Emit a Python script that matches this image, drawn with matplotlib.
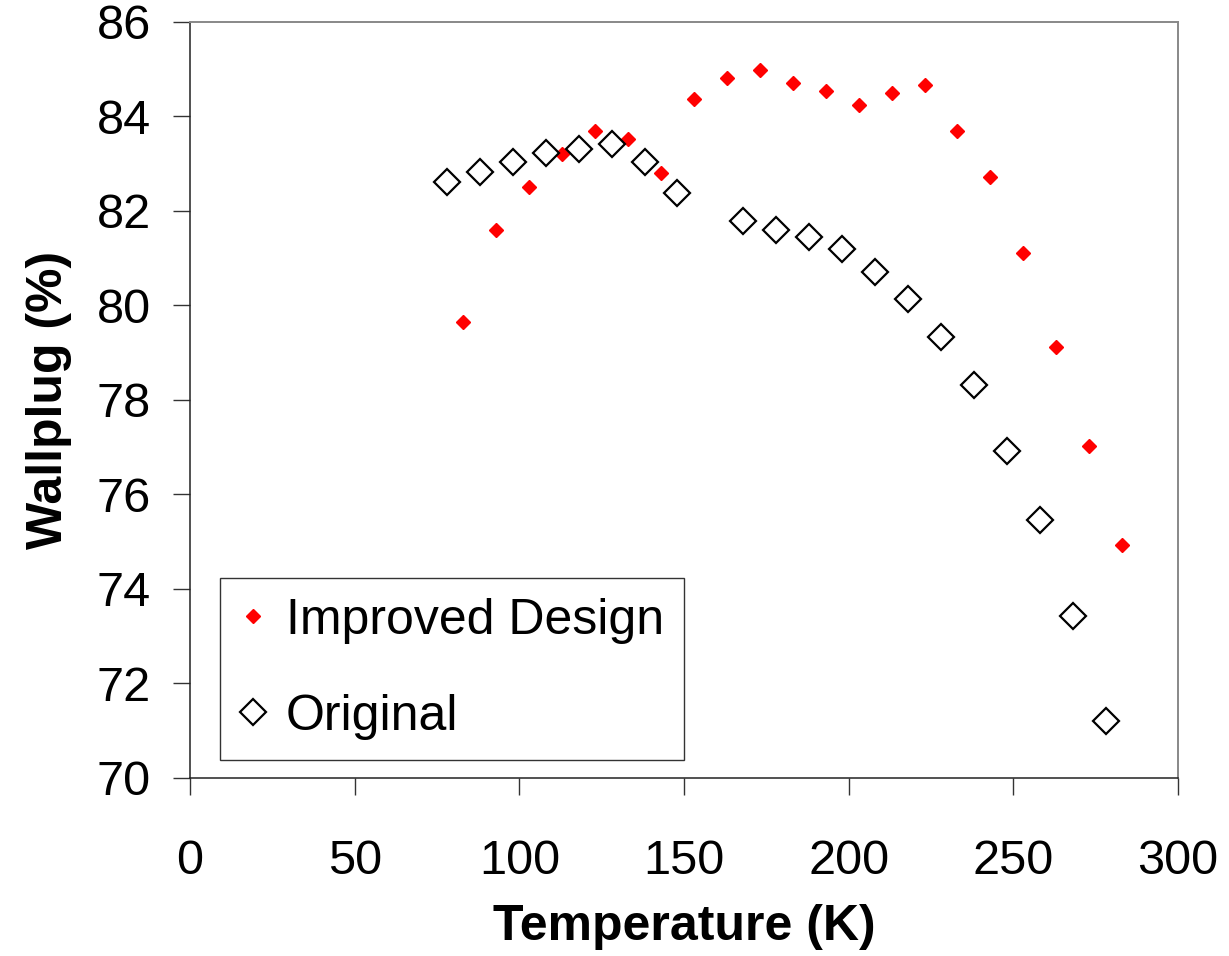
import numpy as np
import matplotlib.pyplot as plt

plt.rcParams['font.family'] = ['Liberation Sans', 'DejaVu Sans']

# Improved design (filled red diamonds)
temp_improved = [83, 93, 103, 113, 123, 133, 143, 153, 163, 173, 183,
                 193, 203, 213, 223, 233, 243, 253, 263, 273, 283]
wallplug_improved = [79.65, 81.6, 82.5, 83.2, 83.69, 83.52, 82.8, 84.37,
                     84.81, 84.98, 84.71, 84.54, 84.24, 84.5, 84.67, 83.69,
                     82.72, 81.11, 79.12, 77.03, 74.93]

# Original design (open diamonds)
temp_original = [78, 88, 98, 108, 118, 128, 138, 148, 168, 178, 188,
                 198, 208, 218, 228, 238, 248, 258, 268, 278]
wallplug_original = [82.61, 82.83, 83.04, 83.23, 83.31, 83.42, 83.04, 82.38,
                     81.79, 81.6, 81.45, 81.19, 80.71, 80.14, 79.33, 78.32,
                     76.92, 75.46, 73.43, 71.21]

fs = 35

fig = plt.figure(figsize=(12.29, 9.56), dpi=100)
ax = fig.add_axes([0.1546, 0.1862, 0.804, 0.7908])

ax.plot(temp_improved, wallplug_improved, linestyle='none', marker='D',
        ms=7.5, color='#ff0000', mec='#ff0000', label='Improved Design')
ax.plot(temp_original, wallplug_original, linestyle='none', marker='D',
        ms=13, mfc='white', mec='black', mew=1.6, label='Original')

ax.set_xlim(0, 300)
ax.set_ylim(70, 86)
ax.set_xticks(np.arange(0, 301, 50))
ax.set_yticks(np.arange(70, 87, 2))

ax.tick_params(direction='out', length=12, width=1, colors='#333333',
               labelsize=fs, labelcolor='black')
ax.tick_params(axis='y', pad=16)
ax.tick_params(axis='x', pad=32)

for side in ['left', 'bottom']:
    ax.spines[side].set_color('#222222')
    ax.spines[side].set_linewidth(1.1)
for side in ['top', 'right']:
    ax.spines[side].set_color('#888888')
    ax.spines[side].set_linewidth(1.4)

ax.set_xlabel('Temperature (K)', fontsize=36, fontweight='bold', labelpad=14)
ax.set_ylabel('Wallplug (%)', fontsize=36, fontweight='bold', labelpad=18)

leg = ax.legend(loc='lower left', bbox_to_anchor=(0.0304, 0.0238),
                borderaxespad=0, fontsize=36, frameon=True, fancybox=False,
                handlelength=0.5, handletextpad=0.42, labelspacing=1.0,
                borderpad=0.4, numpoints=1)
leg.get_frame().set_edgecolor('black')
leg.get_frame().set_linewidth(1.0)

fig.savefig('out.png', dpi=100)
